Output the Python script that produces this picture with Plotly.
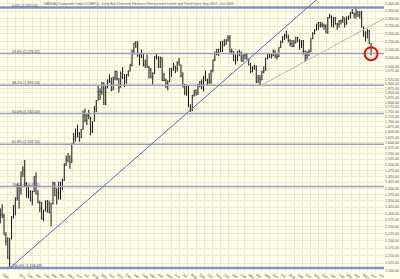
import math
import pandas as pd
import plotly.graph_objects as go

# ---------------- data (weekly bars) ----------------
wk_open = [
    1315, 1295, 1291, 1221, 1199, 1140, 1210, 1287, 1331, 1360, 1359, 1411, 1468, 1478, 1422, 1362, 1387, 1348,
    1387, 1448, 1376, 1342, 1321, 1282, 1310, 1349, 1337, 1305, 1340, 1421, 1369, 1383, 1358, 1425, 1434, 1502,
    1520, 1538, 1510, 1595, 1627, 1626, 1644, 1625, 1663, 1734, 1708, 1731, 1715, 1653, 1702, 1765, 1810, 1858,
    1855, 1905, 1792, 1880, 1915, 1912, 1865, 1932, 1970, 1930, 1881, 1960, 1937, 1949, 1951, 1973,
    2006, 2087, 2140, 2124, 2066, 2064, 2054, 2008, 2030, 1995, 1985, 1940, 1960, 2057, 2053, 1996, 2050, 1920,
    1918, 1904, 1912, 1987, 1979, 2000, 1987, 2025, 2007, 1946, 1883, 1849, 1887, 1777, 1757, 1838, 1862, 1844,
    1894, 1910, 1879, 1942, 1920, 1912, 1915, 1975, 2039, 2085, 2071, 2102, 2148, 2128, 2135, 2160,
    2175, 2089, 2088, 2034, 2036, 2087, 2077, 2030, 2065, 2071, 2042, 2008, 1970, 1985, 1999, 1908, 1932, 1922,
    1967, 1977, 2046, 2076, 2071, 2063, 2090, 2053, 2057, 2113, 2153, 2180, 2185, 2178, 2157, 2136, 2121, 2141,
    2176, 2160, 2117, 2152, 2090, 2065, 2082, 2090, 2169, 2202, 2227, 2263, 2273, 2257, 2252, 2249,
    2205, 2306, 2317, 2248, 2304, 2263, 2262, 2282, 2287, 2303, 2262, 2306, 2313, 2340, 2339, 2326, 2343, 2323,
    2343, 2244, 2194, 2210, 2220, 2135,
]
wk_high = [
    1320, 1336, 1300, 1231, 1213, 1210, 1290, 1332, 1363, 1420, 1412, 1470, 1493, 1521, 1425, 1410, 1392, 1390,
    1450, 1467, 1392, 1350, 1345, 1315, 1350, 1352, 1350, 1341, 1427, 1425, 1400, 1428, 1426, 1440, 1505, 1540,
    1552, 1540, 1596, 1646, 1667, 1686, 1650, 1665, 1758, 1767, 1740, 1761, 1725, 1702, 1782, 1812, 1888, 1875,
    1910, 1906, 1893, 1925, 1953, 1935, 1941, 1976, 1973, 1931, 1970, 1996, 1955, 1955, 1975, 2015,
    2100, 2142, 2153, 2154, 2075, 2100, 2080, 2040, 2070, 2002, 1990, 1965, 2060, 2079, 2060, 2058, 2053, 1962,
    1930, 1920, 1990, 1992, 2020, 2002, 2030, 2050, 2010, 1965, 1900, 1895, 1890, 1790, 1840, 1865, 1870, 1900,
    1916, 1925, 1943, 1975, 1930, 1960, 1980, 2040, 2086, 2105, 2105, 2150, 2155, 2165, 2165, 2191,
    2191, 2106, 2090, 2070, 2090, 2100, 2090, 2070, 2078, 2080, 2045, 2020, 2000, 2010, 2005, 1950, 1950, 1975,
    2000, 2050, 2080, 2080, 2075, 2100, 2095, 2075, 2115, 2155, 2185, 2200, 2219, 2195, 2165, 2160, 2160, 2180,
    2180, 2165, 2160, 2160, 2095, 2090, 2100, 2170, 2210, 2230, 2265, 2276, 2278, 2275, 2265, 2260,
    2310, 2332, 2320, 2310, 2310, 2270, 2290, 2292, 2316, 2305, 2315, 2320, 2345, 2365, 2340, 2375, 2350, 2350,
    2353, 2245, 2215, 2230, 2222, 2140,
]
wk_low = [
    1263, 1283, 1221, 1184, 1139, 1108, 1205, 1281, 1293, 1350, 1319, 1374, 1446, 1408, 1362, 1359, 1348, 1332,
    1384, 1376, 1340, 1305, 1277, 1271, 1308, 1303, 1301, 1253, 1335, 1369, 1335, 1355, 1355, 1392, 1430, 1494,
    1510, 1482, 1508, 1590, 1605, 1625, 1604, 1620, 1661, 1698, 1684, 1714, 1634, 1646, 1702, 1749, 1810, 1812,
    1840, 1786, 1786, 1875, 1905, 1860, 1865, 1921, 1920, 1852, 1880, 1927, 1883, 1900, 1940, 1970,
    2000, 2070, 2110, 2056, 2005, 2050, 2000, 1990, 1990, 1930, 1930, 1896, 1955, 2040, 1990, 1990, 1916, 1915,
    1876, 1865, 1910, 1940, 1975, 1960, 1970, 2005, 1935, 1880, 1840, 1835, 1776, 1750, 1755, 1830, 1835, 1840,
    1880, 1870, 1858, 1915, 1890, 1900, 1900, 1965, 2030, 2065, 2060, 2085, 2085, 2120, 2130, 2150,
    2080, 2070, 2030, 2010, 2030, 2060, 2030, 2025, 2040, 2040, 2005, 1960, 1965, 1980, 1905, 1905, 1889, 1920,
    1960, 1975, 2040, 2050, 2045, 2060, 2050, 2040, 2055, 2110, 2140, 2160, 2170, 2145, 2120, 2115, 2115, 2140,
    2145, 2100, 2110, 2070, 2025, 2040, 2060, 2085, 2165, 2195, 2220, 2225, 2240, 2240, 2225, 2205,
    2200, 2300, 2245, 2240, 2260, 2225, 2240, 2260, 2270, 2240, 2260, 2290, 2300, 2330, 2300, 2300, 2310, 2300,
    2240, 2180, 2150, 2170, 2135, 2065,
]
wk_close = [
    1295, 1291, 1221, 1199, 1140, 1210, 1287, 1331, 1360, 1359, 1411, 1468, 1478, 1422, 1362, 1387, 1348, 1387,
    1448, 1376, 1342, 1321, 1282, 1310, 1349, 1337, 1305, 1340, 1421, 1369, 1383, 1358, 1425, 1434, 1502, 1520,
    1538, 1510, 1595, 1627, 1626, 1644, 1625, 1663, 1734, 1708, 1731, 1715, 1653, 1702, 1765, 1810, 1858, 1855,
    1905, 1792, 1880, 1915, 1912, 1865, 1932, 1970, 1930, 1881, 1960, 1937, 1949, 1951, 1973, 2006,
    2087, 2140, 2124, 2066, 2064, 2054, 2008, 2030, 1995, 1985, 1940, 1960, 2057, 2053, 1996, 2050, 1920, 1918,
    1904, 1912, 1987, 1979, 2000, 1987, 2025, 2007, 1946, 1883, 1849, 1887, 1777, 1757, 1838, 1862, 1844, 1894,
    1910, 1879, 1942, 1920, 1912, 1915, 1975, 2039, 2085, 2071, 2102, 2148, 2128, 2135, 2160, 2175,
    2089, 2088, 2034, 2036, 2087, 2077, 2030, 2065, 2071, 2042, 2008, 1970, 1985, 1999, 1908, 1932, 1922, 1967,
    1977, 2046, 2076, 2071, 2063, 2090, 2053, 2057, 2113, 2153, 2180, 2185, 2178, 2157, 2136, 2121, 2141, 2176,
    2160, 2117, 2152, 2090, 2065, 2082, 2090, 2169, 2202, 2227, 2263, 2273, 2257, 2252, 2249, 2205,
    2306, 2317, 2248, 2304, 2263, 2262, 2282, 2287, 2303, 2262, 2306, 2313, 2340, 2339, 2326, 2343, 2323, 2343,
    2244, 2194, 2210, 2220, 2135, 2072,
]
first_week = "2002-09-04"

# Fibonacci retracement levels (swing low 1,108.49 -> swing high 2,375.54)
fib_pcts = ["0.0%", "23.6%", "38.2%", "50.0%", "61.8%", "76.4%", "100.0%"]
fib_levels = [2375.54, 2076.52, 1891.53, 1742.02, 1592.50, 1407.51, 1108.49]

# trend lines (start / end points)
trend1_x = ["2002-10-10", "2006-01-12"]
trend1_y = [1108.49, 2515]
trend2_x = ["2005-04-29", "2006-08-01"]
trend2_y = [1889.83, 2300]

# highlighted last bar
circle_x = ["2006-06-14"]
circle_y = [2075]

# axis ticks
y_ticks = list(range(2400, 1999, -50)) + [1975] + list(range(1925, 1099, -25))
month_starts = [pd.Timestamp("2002-09-01")] + list(pd.date_range("2002-11-01", "2006-07-01", freq="MS"))
x_tickvals = [d + pd.Timedelta(days=14) for d in month_starts]
x_ticktext = [d.strftime("%b") for d in month_starts]
grid_months = list(pd.date_range("2002-09-01", "2006-08-01", freq="MS"))

x_range = ["2002-09-03", "2006-08-01"]
y_range = [math.log10(1099), math.log10(2428)]

title_text = ("NASDAQ Composite Index (COMPQ) - Daily Bar Chart with Fibonacci Retracement "
              "Levels and Trend Lines, Sep 2002 - Jun 2006")

# ---------------- styles ----------------
BG = "#FFFFEB"
GRID = "#EEEAD2"
FIB_MID = "#9AA3B8"
FIB_END = "#8492C2"

dates = pd.date_range(first_week, periods=len(wk_close), freq="7D")

fig = go.Figure()

line_ext = ["2002-08-01", "2006-09-01"]
for i, lvl in enumerate(fib_levels):
    end = i in (0, len(fib_levels) - 1)
    fig.add_trace(go.Scatter(
        x=line_ext, y=[lvl, lvl], mode="lines",
        line=dict(color=FIB_END if end else FIB_MID, width=2.5 if end else 1.5),
        hoverinfo="skip", showlegend=False))

fig.add_trace(go.Scatter(x=trend1_x, y=trend1_y, mode="lines",
                         line=dict(color="#5B6BB0", width=1), hoverinfo="skip", showlegend=False))
fig.add_trace(go.Scatter(x=trend2_x, y=trend2_y, mode="lines",
                         line=dict(color="#B3B6C2", width=1), hoverinfo="skip", showlegend=False))

fig.add_trace(go.Ohlc(
    x=dates, open=wk_open, high=wk_high, low=wk_low, close=wk_close,
    increasing=dict(line=dict(color="#151515", width=1)),
    decreasing=dict(line=dict(color="#151515", width=1)),
    tickwidth=0.25, hoverinfo="skip", showlegend=False))

fib_text = [f"{p} ({v:,.2f})" for p, v in zip(fib_pcts, fib_levels)]
fig.add_trace(go.Scatter(
    x=["2002-10-18"] * len(fib_levels), y=fib_levels, mode="text", text=fib_text,
    textposition="top right", textfont=dict(size=3.6, color="#3C3C5C", family="Arial"),
    hoverinfo="skip", showlegend=False, cliponaxis=False))

fig.add_trace(go.Scatter(
    x=circle_x, y=circle_y, mode="markers",
    marker=dict(symbol="circle-open", size=13, line=dict(color="#E01010", width=2), color="#E01010"),
    hoverinfo="skip", showlegend=False))

fig.add_annotation(xref="paper", yref="paper", x=0.11, y=1.0, xanchor="left", yanchor="top",
                   text=title_text, showarrow=False,
                   font=dict(size=3.3, color="#666666", family="Arial"))

fig.update_layout(
    width=400, height=279,
    margin=dict(l=0, r=16, t=0, b=8),
    paper_bgcolor=BG, plot_bgcolor=BG,
    showlegend=False,
    xaxis=dict(
        type="date", range=x_range, rangeslider=dict(visible=False),
        tickmode="array", tickvals=x_tickvals, ticktext=x_ticktext,
        showgrid=False, ticks="", showline=False, zeroline=False,
        tickfont=dict(size=3.8, color="#555555", family="Arial"),
        automargin=False,
        minor=dict(tickmode="array", tickvals=grid_months, showgrid=True,
                   gridcolor=GRID, gridwidth=1, ticks=""),
    ),
    yaxis=dict(
        type="log", range=y_range, side="right",
        tickmode="array", tickvals=y_ticks, tickformat=",.2f",
        showgrid=True, gridcolor=GRID, gridwidth=1, ticks="",
        showline=False, zeroline=False,
        tickfont=dict(size=3.6, color="#555555", family="Arial"),
        automargin=False,
    ),
)

fig.write_html("out.html")
